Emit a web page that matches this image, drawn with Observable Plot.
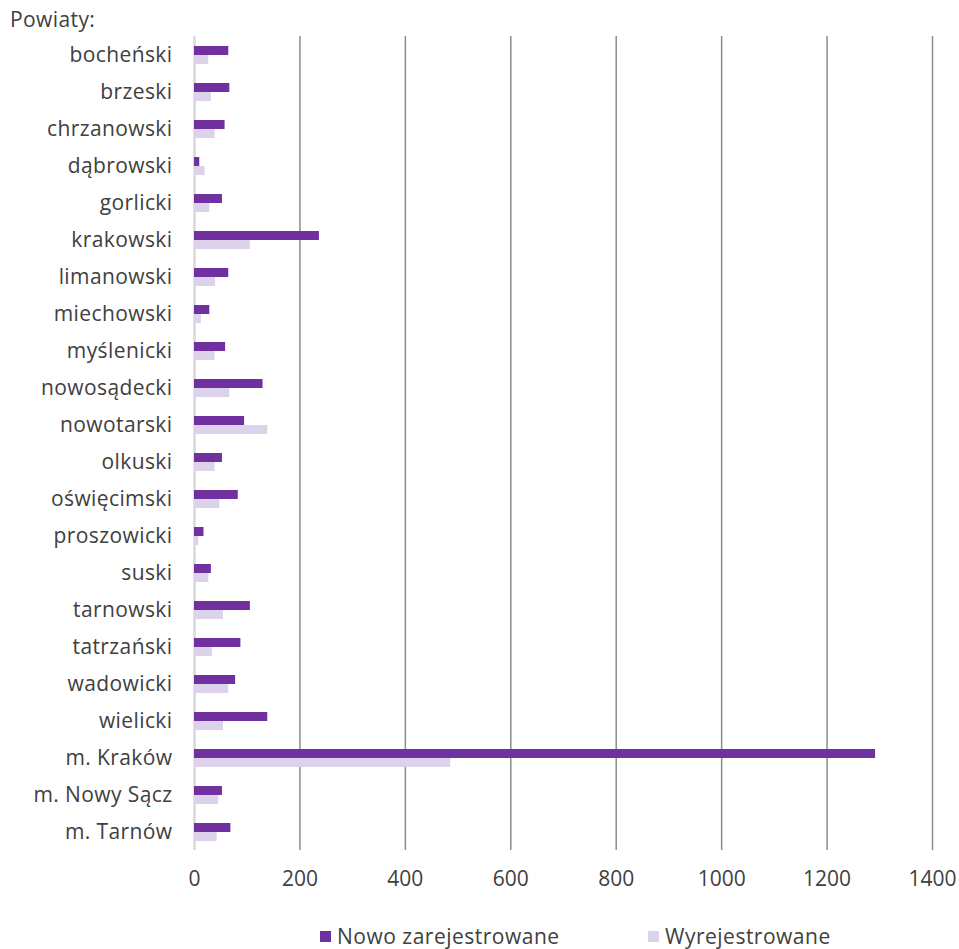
<!DOCTYPE html>
<html>
<head>
<meta charset="utf-8">
<script src="https://cdn.jsdelivr.net/npm/d3@7"></script>
<script src="https://cdn.jsdelivr.net/npm/@observablehq/plot@0.6"></script>
<style>
  html, body { margin: 0; padding: 0; background: #fff; }
  body { width: 959px; font-family: "Open Sans", sans-serif; color: #404040; }
  #header { position: relative; height: 35px; }
  #header span { position: absolute; left: 10px; top: 7px; font-size: 21px; line-height: 24px; letter-spacing: 0.4px; }
  #legend { position: relative; height: 44px; font-size: 21px; letter-spacing: 0.5px; }
  .item { position: absolute; top: 21px; display: flex; align-items: center; line-height: 20px; height: 20px; }
  .sw { width: 11px; height: 11px; margin-right: 6px; }
  #chart svg g[aria-label="fy-axis tick label"] text { letter-spacing: 0.4px; }
</style>
</head>
<body>
<div id="header"><span>Powiaty:</span></div>
<div id="chart"></div>
<div id="legend">
  <div class="item" style="left:320px"><div class="sw" style="background:#7030A0"></div>Nowo zarejestrowane</div>
  <div class="item" style="left:648px"><div class="sw" style="background:#DCD3EA"></div>Wyrejestrowane</div>
</div>
<script>
const categories = ["bocheński","brzeski","chrzanowski","dąbrowski","gorlicki","krakowski","limanowski","miechowski","myślenicki","nowosądecki","nowotarski","olkuski","oświęcimski","proszowicki","suski","tarnowski","tatrzański","wadowicki","wielicki","m. Kraków","m. Nowy Sącz","m. Tarnów"];
const series = ["Nowo zarejestrowane","Wyrejestrowane"];
const nowe   = [65, 67, 58, 10, 53, 237, 65, 29, 59, 130, 95, 53, 83, 18, 32, 106, 88, 78, 139, 1292, 53, 69];
const wyrej  = [27, 32, 39, 20, 29, 106, 40, 13, 39, 67, 139, 39, 48, 8, 27, 55, 34, 65, 55, 486, 46, 43];
const xTicks = [0, 200, 400, 600, 800, 1000, 1200, 1400];
const colors = ["#7030A0", "#DCD3EA"];

const data = categories.flatMap((c, i) => [
  {cat: c, series: series[0], value: nowe[i]},
  {cat: c, series: series[1], value: wyrej[i]}
]);

const plot = Plot.plot({
  width: 959,
  height: 870,
  marginTop: 0,
  marginLeft: 194,
  marginRight: 27,
  marginBottom: 54,
  style: {fontFamily: "Open Sans, sans-serif", fontSize: "21px", color: "#404040", background: "#fff"},
  x: {domain: [0, 1400], ticks: xTicks, tickSize: 0, tickPadding: 20, label: null, tickFormat: d => String(d)},
  y: {domain: series, axis: null, paddingInner: 0, paddingOuter: 0.8545},
  fy: {domain: categories, padding: 0, label: null, axis: "left", tickSize: 0, tickPadding: 22},
  color: {domain: series, range: colors},
  marks: [
    Plot.gridX(xTicks.slice(1), {stroke: "#8c8c8c", strokeOpacity: 1, strokeWidth: 1.5}),
    Plot.ruleX([0], {stroke: "#d9d9d9", strokeWidth: 2.5}),
    Plot.barX(data, {x: "value", y: "series", fy: "cat", fill: "series"}),
    Plot.axisX({ticks: xTicks, tickSize: 0, tickPadding: 21, fontSize: 21, label: null, tickFormat: d => String(d)})
  ]
});
document.getElementById("chart").appendChild(plot);
</script>
</body>
</html>
